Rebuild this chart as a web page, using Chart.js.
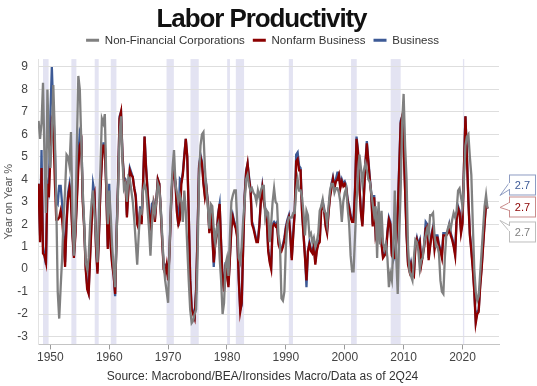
<!DOCTYPE html>
<html><head><meta charset="utf-8">
<script src="https://cdn.jsdelivr.net/npm/chart.js@4.4.1/dist/chart.umd.min.js"></script>
<style>html,body{margin:0;padding:0;background:#fff;}#wrap{width:537px;height:386px;position:relative;}</style>
</head><body><div id="wrap"><canvas id="c"></canvas></div>
<script>
const startYear = 1948; // first quarter 1948Q1, quarterly data to 2024Q2
const chartTitle = 'Labor Productivity';
const sourceText = 'Source: Macrobond/BEA/Ironsides Macro/Data as of 2Q24';
const seriesNames = ['Non-Financial Corporations', 'Nonfarm Business', 'Business'];
const recessions = [[1948.75,1949.7],[1953.57,1954.42],[1957.53,1958.21],[1960.26,1961.22],[1969.73,1970.97],[1973.8,1975.2],[1980.03,1980.5],[1981.5,1982.9],[1990.5,1991.2],[2001.07,2002.04],[2007.8,2009.5],[2020.07,2020.3]];

const nonFinancialCorp = [
6.6,5.8,6.5,8.3, 5.0,2.5,8.0,5.5, 4.5,6.0,8.2,6.0, 3.0,-1.0,-2.2,-0.8, 0.5,2.3,3.5,5.1,
5.0,4.6,6.1,2.5, 0.6,2.0,5.5,8.6, 8.0,5.7,3.5,2.0, 0.3,0.0,0.5,2.0, 3.0,3.5,2.5,1.5,
0.3,2.5,4.5,6.7, 6.5,6.9,4.0,2.0, 3.5,2.4,1.0,0.0, -0.8,1.5,3.5,6.0, 6.8,4.8,3.6,3.8,
3.0,4.1,4.0,3.5, 3.0,2.2,1.2,0.2, 1.5,2.6,2.5,3.5, 3.8,3.5,2.7,1.8, 0.6,2.0,2.9,2.5,
3.0,3.8,3.6,2.7, 1.5,0.2,-0.5,-1.0, -1.5,1.0,3.1,4.5, 5.3,3.8,3.4,3.0, 3.3,3.0,2.1,3.5,
2.6,1.0,-0.5,-1.8, -2.4,-2.3,-2.0,-1.8, 0.5,4.0,5.5,6.0, 6.1,4.5,3.5,2.8, 1.8,2.9,2.8,1.8,
1.2,1.8,2.0,0.5, -0.5,-2.0,-1.5,0.2, 0.5,-0.3,1.5,3.0, 3.3,3.5,3.5,2.0, 0.5,0.3,1.0,2.2,
3.0,4.0,4.2,3.7, 3.5,3.6,3.4,3.3, 3.0,3.5,3.2,3.5, 3.7,3.7,2.3,2.6, 2.5,1.2,2.0,3.0,
3.6,3.0,2.9,1.5, 1.1,-1.3,-1.4,-1.0, 1.0,2.0,2.3,2.3, 2.3,2.5,2.5,3.5, 4.0,3.5,3.5,3.2,
2.5,1.5,2.6,2.4, 1.5,1.6,1.2,1.4, 1.0,1.2,1.6,2.6, 2.8,3.1,2.6,2.5, 2.0,2.8,3.5,3.8,
3.8,3.4,3.6,3.6, 3.4,3.0,2.1,3.0, 3.4,3.6,2.7,2.0, 0.6,-0.1,-0.1,1.5, 3.0,4.0,5.1,4.5,
3.8,4.4,4.7,4.4, 4.0,3.9,3.4,2.9, 2.4,2.8,0.5,3.0, 1.1,2.6,1.2,0.9, 1.1,0.5,-0.8,-0.2,
-0.5,1.0,3.5,0.5, -1.1,1.5,3.5,6.5, 7.8,5.5,4.0,1.0, -0.1,-0.3,-0.5,0.5, 1.3,1.2,0.8,0.0,
0.4,0.5,1.2,1.5, 1.8,1.5,2.4,2.4, 2.5,1.5,1.0,1.0, 0.7,-0.5,-1.0,-1.1, 0.5,1.5,1.8,2.0,
1.8,2.2,2.5,2.3, 2.6,3.5,3.6,3.2, 2.8,4.0,5.5,5.9, 6.0,5.0,4.2,2.0, 0.0,-1.0,-1.4,-1.2,
-0.2,0.8,1.8,2.8, 3.3,2.7
];

const nonfarmBusiness = [
3.8,1.2,4.5,0.7, 0.6,0.3,3.8,3.2, 5.0,6.6,6.4,4.0, 2.2,2.2,2.3,2.6, 2.2,1.3,0.1,2.0,
3.2,3.6,3.0,1.5, 0.5,1.5,3.0,4.5, 5.5,5.7,3.0,1.8, 0.0,-0.9,-1.1,0.5, 2.0,3.0,3.3,1.0,
-0.2,1.5,3.5,4.8, 5.5,5.5,3.5,0.9, 3.0,1.0,0.2,-0.3, -1.1,1.5,3.8,6.7, 7.0,5.0,4.0,3.9,
2.3,3.5,4.4,4.2, 4.1,3.6,3.2,2.0, 1.8,2.6,2.0,3.8, 5.9,4.5,3.5,2.5, 2.0,2.5,2.9,2.1,
3.0,4.0,3.8,2.6, 1.2,0.0,-0.2,0.2, -0.5,0.8,2.8,4.1, 4.3,3.8,2.5,2.0, 2.2,3.8,4.2,5.0,
5.8,5.0,2.5,-0.5, -1.8,-2.0,-2.2,-1.0, 1.5,4.5,5.0,4.7, 3.8,3.2,3.6,2.9, 1.6,2.5,1.5,0.3,
1.1,1.5,2.4,2.9, 1.1,-0.5,-1.0,0.2, -0.3,-0.8,0.5,1.8, 2.3,2.0,1.8,1.4, -0.5,-1.9,-1.5,1.0,
3.2,4.3,4.7,4.0, 3.5,2.0,1.8,1.5, 1.2,1.2,1.9,3.0, 3.6,3.0,2.6,2.2, 0.8,0.3,0.0,1.9,
2.0,1.9,2.0,1.1, 0.9,0.8,1.0,1.3, 1.8,2.1,2.3,1.5, 0.4,1.5,2.5,4.8, 4.9,4.4,4.4,2.5,
1.5,0.5,-0.5,0.8, 1.1,0.8,0.7,1.0, 0.2,0.8,1.1,1.2, 2.6,2.9,2.6,1.9, 1.6,2.5,3.2,3.6,
4.0,3.6,3.9,4.0, 4.2,3.6,3.9,3.7, 3.8,3.6,3.0,2.7, 2.3,2.1,2.1,3.5, 5.8,5.2,3.6,2.5,
1.9,3.2,4.6,5.6, 4.8,4.0,3.3,1.9, 3.2,1.5,1.8,2.6, 2.0,1.1,0.5,0.6, 0.7,1.6,2.2,2.0,
0.6,0.5,0.5,1.2, 2.5,4.5,6.5,6.8, 5.5,3.5,1.5,0.2, -0.1,0.2,-0.2,-0.3, 1.0,1.3,1.0,1.2,
0.2,0.6,1.0,1.8, 1.9,0.4,1.0,1.5, 1.8,0.9,1.4,1.4, 1.0,0.8,0.5,1.5, 1.5,1.5,1.6,1.9,
1.5,1.3,1.0,0.6, 2.2,2.7,2.5,1.6, 2.0,4.5,6.8,5.0, 3.0,1.5,0.8,0.0, -1.0,-2.4,-2.0,-1.9,
-0.8,0.0,1.0,2.0, 2.9,2.7
];

const business = [
3.8,1.5,5.3,1.0, 0.6,0.2,3.8,3.5, 6.8,9.0,7.0,5.5, 3.0,2.9,3.7,3.7, 2.9,1.5,0.3,2.2,
3.4,3.8,3.2,1.7, 0.6,1.7,3.2,5.0, 6.1,5.9,3.2,1.9, 0.1,-0.7,-1.0,0.7, 2.2,3.8,3.4,1.1,
-0.1,1.6,3.6,4.9, 5.6,5.6,3.6,1.0, 3.8,1.1,0.3,-0.2, -1.2,1.6,3.9,6.8, 7.0,5.1,4.1,4.0,
2.4,3.6,4.5,4.3, 4.1,3.6,3.3,2.1, 1.9,2.8,2.1,3.9, 5.9,4.6,3.6,2.6, 2.1,2.9,3.0,2.2,
3.1,4.0,3.8,2.7, 1.3,0.1,0.2,0.2, -0.4,0.9,2.9,4.2, 4.4,3.9,2.6,1.9, 4.0,3.9,4.3,5.1,
5.8,5.0,2.6,-0.4, -1.7,-1.9,-2.1,-0.9, 1.6,4.6,5.1,4.8, 3.9,3.3,3.7,3.0, 1.7,2.6,1.6,0.1,
1.2,1.6,2.5,2.9, 1.2,-0.4,-0.9,0.3, -0.2,-0.7,0.6,1.9, 2.4,2.1,1.9,1.5, -0.4,-1.8,-1.6,1.1,
3.3,4.4,4.7,4.1, 3.6,2.1,1.9,1.6, 1.3,1.3,2.0,3.1, 3.7,3.1,2.7,2.3, 0.9,0.4,0.1,2.0,
2.1,2.0,2.1,1.2, 1.0,0.9,1.1,1.4, 1.9,2.2,2.4,1.6, 0.5,1.6,2.6,5.1, 5.2,4.6,4.5,2.6,
1.6,0.6,-0.8,0.8, 1.2,0.9,0.8,1.1, 0.3,0.9,1.2,1.3, 2.7,3.0,2.7,2.0, 1.7,2.6,3.3,3.8,
4.1,3.7,4.0,4.3, 4.3,3.7,4.0,3.8, 3.9,3.7,3.1,2.8, 2.4,2.2,2.2,3.6, 5.9,5.3,3.7,2.6,
2.0,3.3,4.7,5.7, 4.9,4.1,3.4,2.0, 3.3,1.6,1.9,2.7, 2.1,1.2,0.6,0.7, 0.8,1.7,2.3,2.1,
0.7,0.4,0.6,1.3, 2.6,4.6,6.6,6.8, 5.6,3.6,1.6,0.3, 0.0,0.3,-0.1,-0.2, 1.1,1.4,1.1,1.3,
0.3,0.7,1.1,2.1, 2.0,0.5,1.1,1.6, 1.9,1.0,1.5,1.5, 1.1,0.9,0.6,1.6, 1.6,1.6,1.7,2.0,
1.6,1.4,1.1,0.7, 2.3,2.8,2.6,1.7, 2.1,4.6,6.8,5.1, 3.1,1.6,0.9,0.1, -0.9,-2.3,-1.9,-1.8,
-0.7,0.1,1.1,2.1, 2.9,2.7
];

const quarters = nonfarmBusiness.map((_, i) => startYear + i / 4);
const colors = ['#808080', '#8b0000', '#3d5a96'];
const seriesValues = [nonFinancialCorp, nonfarmBusiness, business];
const FONT = '"Liberation Sans", Arial, sans-serif';

const bandsPlugin = {
  id: 'bands',
  beforeDraw(chart) {
    const {ctx, chartArea, scales: {x}} = chart;
    ctx.save();
    ctx.fillStyle = '#e3e3f2';
    recessions.forEach(([a, b]) => {
      const x0 = x.getPixelForValue(a), x1 = x.getPixelForValue(b);
      ctx.fillRect(x0, chartArea.top, Math.max(1.2, x1 - x0), chartArea.bottom - chartArea.top);
    });
    ctx.restore();
  }
};

const titlePlugin = {
  id: 'condensedTitle',
  afterDraw(chart) {
    const {ctx} = chart;
    ctx.save();
    ctx.font = 'bold 26px ' + FONT;
    if ('letterSpacing' in ctx) ctx.letterSpacing = '-1.1px';
    ctx.fillStyle = '#111';
    ctx.textAlign = 'center';
    ctx.textBaseline = 'alphabetic';
    ctx.fillText(chartTitle, 261.5, 27);
    ctx.restore();
  }
};

const endLabelsPlugin = {
  id: 'endLabels',
  afterDraw(chart) {
    const {ctx, chartArea, scales: {y}} = chart;
    const specs = [
      {ds: 2, text: '#3d5a96', border: '#8e9cc2', dy: -24, tip: -13, b0: -2, b1: 5},
      {ds: 1, text: '#8b0000', border: '#c98c8c', dy: -2, tip: -1, b0: -4, b1: 4},
      {ds: 0, text: '#7f7f7f', border: '#bdbdbd', dy: 23, tip: 12, b0: -6, b1: 0}
    ];
    ctx.save();
    specs.forEach(s => {
      const arr = chart.data.datasets[s.ds].data;
      const v = arr[arr.length - 1].y;
      const valY = y.getPixelForValue(v);
      const bx = chartArea.right + 10, bw = 26, bh = 20;
      const cy = valY + s.dy;
      const tipX = chartArea.right + 1, tipY = valY + s.tip;
      ctx.lineWidth = 1;
      ctx.strokeStyle = s.border;
      ctx.fillStyle = '#fff';
      ctx.beginPath();
      ctx.moveTo(bx + 0.5, cy + s.b0);
      ctx.lineTo(tipX, tipY);
      ctx.lineTo(bx + 0.5, cy + s.b1);
      ctx.closePath();
      ctx.fill(); ctx.stroke();
      ctx.fillRect(bx, cy - bh / 2, bw, bh);
      ctx.strokeRect(bx + 0.5, cy - bh / 2 + 0.5, bw, bh);
      ctx.fillRect(bx - 0.5, cy + s.b0 + 0.5, 2, s.b1 - s.b0 - 1);
      ctx.fillStyle = s.text;
      ctx.font = '11px ' + FONT;
      ctx.textAlign = 'center';
      ctx.textBaseline = 'middle';
      ctx.fillText(v.toFixed(1), bx + bw / 2 + 0.5, cy + 1);
    });
    ctx.restore();
  }
};

new Chart(document.getElementById('c'), {
  type: 'line',
  data: {
    datasets: seriesNames.map((name, k) => ({
      label: name,
      data: quarters.map((q, i) => ({x: q, y: seriesValues[k][i]})),
      borderColor: colors[k],
      backgroundColor: colors[k],
      borderWidth: 2.3,
      pointRadius: 0,
      tension: 0
    }))
  },
  options: {
    responsive: true,
    maintainAspectRatio: false,
    animation: false,
    layout: {padding: {left: 0, right: 12, top: 26.6, bottom: 0}},
    plugins: {
      title: {display: false},
      legend: {
        display: true, position: 'top',
        labels: {
          boxWidth: 13, boxHeight: 3, padding: 8, color: '#333',
          font: {family: FONT, size: 11.5},
          generateLabels(chart) {
            return Chart.defaults.plugins.legend.labels.generateLabels(chart).map(it => Object.assign(it, {lineWidth: 0, fillStyle: it.strokeStyle}));
          }
        }
      },
      subtitle: {
        display: true, position: 'bottom',
        text: sourceText, color: '#333',
        font: {family: FONT, size: 12},
        padding: {top: 3.8, bottom: 2}
      },
      tooltip: {enabled: false}
    },
    scales: {
      x: {
        type: 'linear', min: 1947.9, max: 2026.2,
        ticks: {stepSize: 10, includeBounds: false, callback: v => String(v), color: '#444', font: {family: FONT, size: 12}, padding: 1, maxRotation: 0, autoSkip: false},
        grid: {drawOnChartArea: false, drawTicks: true, tickLength: 5, color: '#9a9a9a'},
        border: {display: true, color: '#c4c4c4'}
      },
      xTop: {
        type: 'linear', position: 'top', min: 0, max: 1,
        ticks: {display: false},
        grid: {display: false, drawOnChartArea: false, drawTicks: false},
        border: {display: false},
        afterFit(scale) { scale.height = 3; }
      },
      y: {
        min: -3.35, max: 9.35,
        ticks: {stepSize: 1, includeBounds: false, color: '#444', font: {family: FONT, size: 12}, padding: 10},
        grid: {color: '#dedede', drawTicks: false},
        border: {display: true, color: '#e2e2e2'},
        title: {display: true, text: 'Year on Year %', color: '#555', font: {family: FONT, size: 11}, padding: {top: 2, bottom: 0}},
        afterFit(scale) { scale.width = 38; }
      },
      yRight: {
        position: 'right', min: 0, max: 1,
        ticks: {display: false},
        grid: {display: false, drawOnChartArea: false, drawTicks: false},
        border: {display: false},
        afterFit(scale) { scale.width = 26; }
      }
    }
  },
  plugins: [bandsPlugin, titlePlugin, endLabelsPlugin]
});
</script></body></html>
